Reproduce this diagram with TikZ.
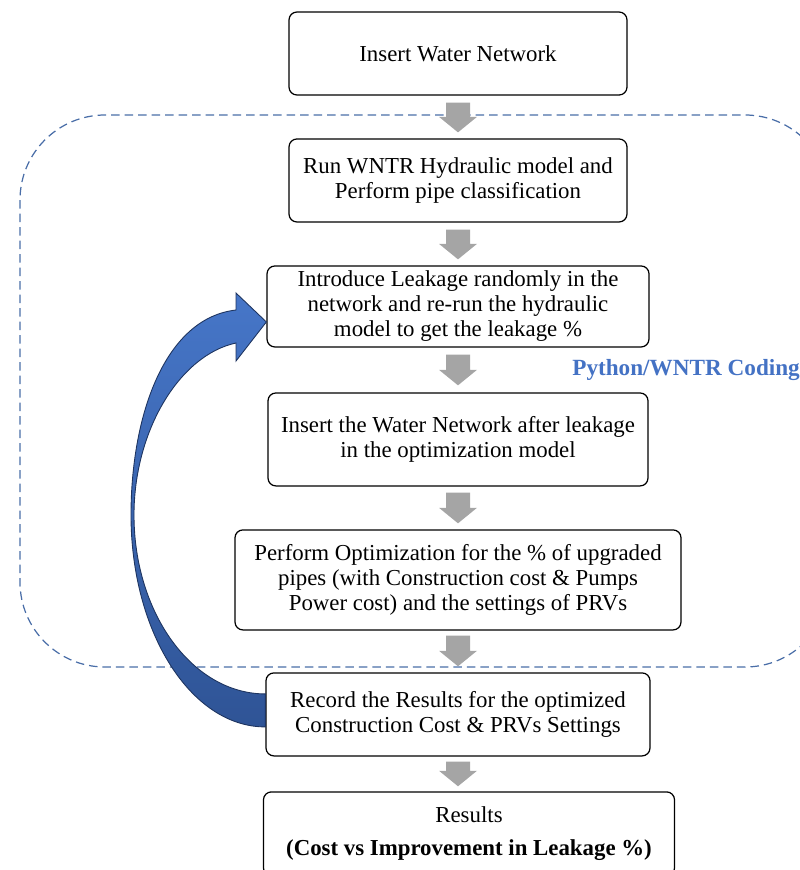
\documentclass[tikz,border=0pt]{standalone}
\usepackage{fontspec}
\setmainfont{Liberation Serif}
\usepackage{xcolor}
\usepackage{tikz}
\usetikzlibrary{
    positioning,
    calc
}
\definecolor{arrowgray}{RGB}{165,165,165}
\definecolor{looptop}{RGB}{70,118,200}
\definecolor{loopbottom}{RGB}{47,84,150}
\definecolor{loopline}{RGB}{30,52,95}
\definecolor{framecol}{RGB}{74,110,168}
\definecolor{codecol}{RGB}{68,114,196}
\tikzset{
  stepbox/.style = {
      draw,
      line width=0.7pt,
      rounded corners=4.5pt,
      align=center,
      inner sep=2pt,
      font=\fontsize{13}{14.2}\selectfont
  },
  bigarrow/.style = {
      fill=arrowgray,
      to path={
        let \p1=(\tikztostart), \p2=(\tikztotarget) in
        (\x1-0.24cm,\y1) -- (\x1+0.24cm,\y1) -- (\x1+0.24cm,\y2+0.31cm)
        -- (\x1+0.38cm,\y2+0.31cm) -- (\x1,\y2) -- (\x1-0.38cm,\y2+0.31cm)
        -- (\x1-0.24cm,\y2+0.31cm) -- cycle
      }
  },
  codeframe/.style = {
      draw=framecol,
      line width=0.7pt,
      dash pattern=on 0.17cm off 0.1cm,
      rounded corners=1.7cm
  },
  looparrow/.style = {
      draw=loopline,
      line width=0.5pt,
      top color=looptop,
      bottom color=loopbottom
  },
  codelabel/.style = {
      font=\fontsize{13.2}{15}\selectfont\bfseries,
      text=codecol,
      inner sep=0pt
  }
}

\begin{document}
\begin{tikzpicture}[node distance=0.855cm]
        \clip (0,0) rectangle (16,-17.4);
        % Frame
        \draw[codeframe] (0.4,-2.3) rectangle (16.6,-13.34);
        % Steps
        \node[stepbox, minimum width=6.76cm, minimum height=1.66cm] (insert) at (9.16,-1.07) {Insert Water Network};
        \node[stepbox, minimum width=6.76cm, minimum height=1.66cm, below=of insert] (run) {Run WNTR Hydraulic model and\\Perform pipe classification};
        \node[stepbox, minimum width=7.64cm, minimum height=1.62cm, below=of run] (leak) {Introduce Leakage randomly in the\\network and re-run the hydraulic\\model to get the leakage \%};
        \node[stepbox, minimum width=7.6cm, minimum height=1.86cm, below=0.895cm of leak] (reinsert) {Insert the Water Network after leakage\\in the optimization model};
        \node[stepbox, minimum width=8.92cm, minimum height=2cm, below=of reinsert] (optim) {Perform Optimization for the \% of upgraded\\pipes (with Construction cost \& Pumps\\Power cost) and the settings of PRVs};
        \node[stepbox, minimum width=7.68cm, minimum height=1.66cm, below=0.835cm of optim] (record) {Record the Results for the optimized\\Construction Cost \& PRVs Settings};
        \node[stepbox, minimum width=8.22cm, minimum height=1.68cm, below=0.695cm of record, xshift=0.22cm] (results) {Results\\[4.8pt]\textbf{(Cost vs Improvement in Leakage \%)}};
        % Label
        \node[codelabel, anchor=west] (coding) at (11.44,-7.4) {Python/WNTR Coding};
        % Edges
        \path[bigarrow] ([yshift=-0.14cm]insert.south) to ([yshift=0.12cm]run.north);
        \path[bigarrow] ([yshift=-0.14cm]run.south) to ([yshift=0.12cm]leak.north);
        \path[bigarrow] ([yshift=-0.14cm]leak.south) to ([yshift=0.14cm]reinsert.north);
        \path[bigarrow] ([yshift=-0.12cm]reinsert.south) to ([yshift=0.12cm]optim.north);
        \path[bigarrow] ([yshift=-0.1cm]optim.south) to ([yshift=0.12cm]record.north);
        \path[bigarrow] ([yshift=-0.1cm]record.south) to ([yshift=0.1cm]results.north);
        % Loop back
        \coordinate (tailA) at ([yshift=-0.25cm]record.west);
        \coordinate (tailB) at ([yshift=0.41cm]record.west);
        \coordinate (tip) at ([yshift=-0.31cm]leak.west);
        \draw[looparrow] (tailA) .. controls (3.82,-14.54) and (2.62,-12.64) .. (2.62,-10.3)
            .. controls (2.62,-8.3) and (3.3,-6.36) .. (4.72,-6.2)
            -- (4.72,-5.86) -- (tip) -- (4.72,-7.22) -- (4.72,-6.86)
            .. controls (3.6,-7.1) and (2.68,-8.6) .. (2.68,-10.3)
            .. controls (2.68,-12.28) and (3.86,-13.88) .. (tailB) -- cycle;
    \end{tikzpicture}
\end{document}
